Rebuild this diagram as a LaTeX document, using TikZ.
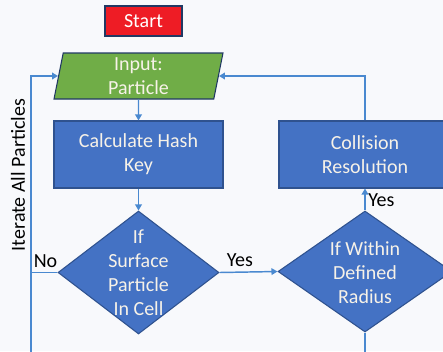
\documentclass[tikz,border=0pt]{standalone}
\usepackage{fontspec}
\setmainfont{Carlito}
\usepackage{tikz}
\usetikzlibrary{shapes,arrows.meta,positioning,calc}

\definecolor{bgcol}{HTML}{F8F9FC}
\definecolor{boxblue}{HTML}{4472C4}
\definecolor{boxedge}{HTML}{2F528F}
\definecolor{inputgreen}{HTML}{70AD47}
\definecolor{startred}{HTML}{EE1C25}
\definecolor{linkblue}{HTML}{4A89D0}
\definecolor{boxtext}{HTML}{F7F2E8}

\tikzset{
  procbox/.style={rectangle, draw=boxedge, fill=boxblue, line width=0.8pt,
    text=boxtext, align=center, font=\fontsize{15}{18}\selectfont,
    minimum width=126.75pt, minimum height=50.25pt},
  decbox/.style={diamond, draw=boxedge, fill=boxblue, line width=0.8pt, inner sep=0pt},
  dectext/.style={text=boxtext, align=center, font=\fontsize{15}{18}\selectfont},
  link/.style={draw=linkblue, line width=1.1pt},
  linkarrow/.style={link, -{Triangle[width=5pt,length=4.5pt]}},
  edgelabel/.style={text=black, font=\fontsize{15}{17}\selectfont}
}

\begin{document}
\begin{tikzpicture}[x=0.75pt, y=-0.75pt]
\useasboundingbox (0,0) rectangle (443,351);
\clip (0,0) rectangle (443,351);
\fill[bgcol] (0,0) rectangle (443,351);

% Start and input
\node[rectangle, draw=boxedge!70!black, fill=startred, line width=0.8pt, text=white,
  font=\fontsize{15}{18}\selectfont, minimum width=57.75pt, minimum height=22.5pt]
  (start) at (143.5,21) {Start};
\node[trapezium, trapezium left angle=76, trapezium right angle=104,
  trapezium stretches body, draw=boxedge!70!black, fill=inputgreen, line width=0.8pt,
  text=boxtext, align=center, font=\fontsize{15}{18}\selectfont,
  minimum width=126.75pt, minimum height=34.5pt, inner sep=0pt]
  (input) at (138.5,76) {Input:\\Particle};

% Process boxes
\node[procbox] (hash) at (138.5,154.5) {Calculate Hash\\Key};
\node[procbox, minimum width=129pt] (coll) at (365,154.5) {Collision\\Resolution};

% Decisions
\node[decbox, minimum width=120.75pt, minimum height=92.25pt] (surf) at (138.5,272.5) {};
\node[dectext] at (surf.center) {If\\Surface\\Particle\\In Cell};
\node[decbox, minimum width=130.5pt, minimum height=90.75pt] (radius) at (365,271.5) {};
\node[dectext] at ($(radius.center)+(0,1)$) {If Within\\Defined\\Radius};

% Loop side
\coordinate (loopbot) at (31,360);
\coordinate (radbot) at (365,360);
\node[edgelabel, rotate=90] (iter) at (18,175) {Iterate All Particles};

% Connectors
\draw[linkarrow] (input.south) -- (hash.north);
\draw[linkarrow] (hash.south) -- (surf.north);
\draw[linkarrow] (surf.east) -- node[edgelabel, above, pos=0.35] (yesa) {Yes} (radius.west);
\draw[linkarrow] (radius.north) -- node[edgelabel, right, pos=0.45, inner sep=2pt] (yesb) {Yes} (coll.south);
\draw[linkarrow] (coll.north) |- (input.east);
\draw[linkarrow] (loopbot) |- (input.west);
\draw[link] (surf.west) -- node[edgelabel, above, pos=0.45] (noa) {No} (surf.west -| loopbot);
\draw[link] (radius.south) -- (radbot);
\end{tikzpicture}
\end{document}
